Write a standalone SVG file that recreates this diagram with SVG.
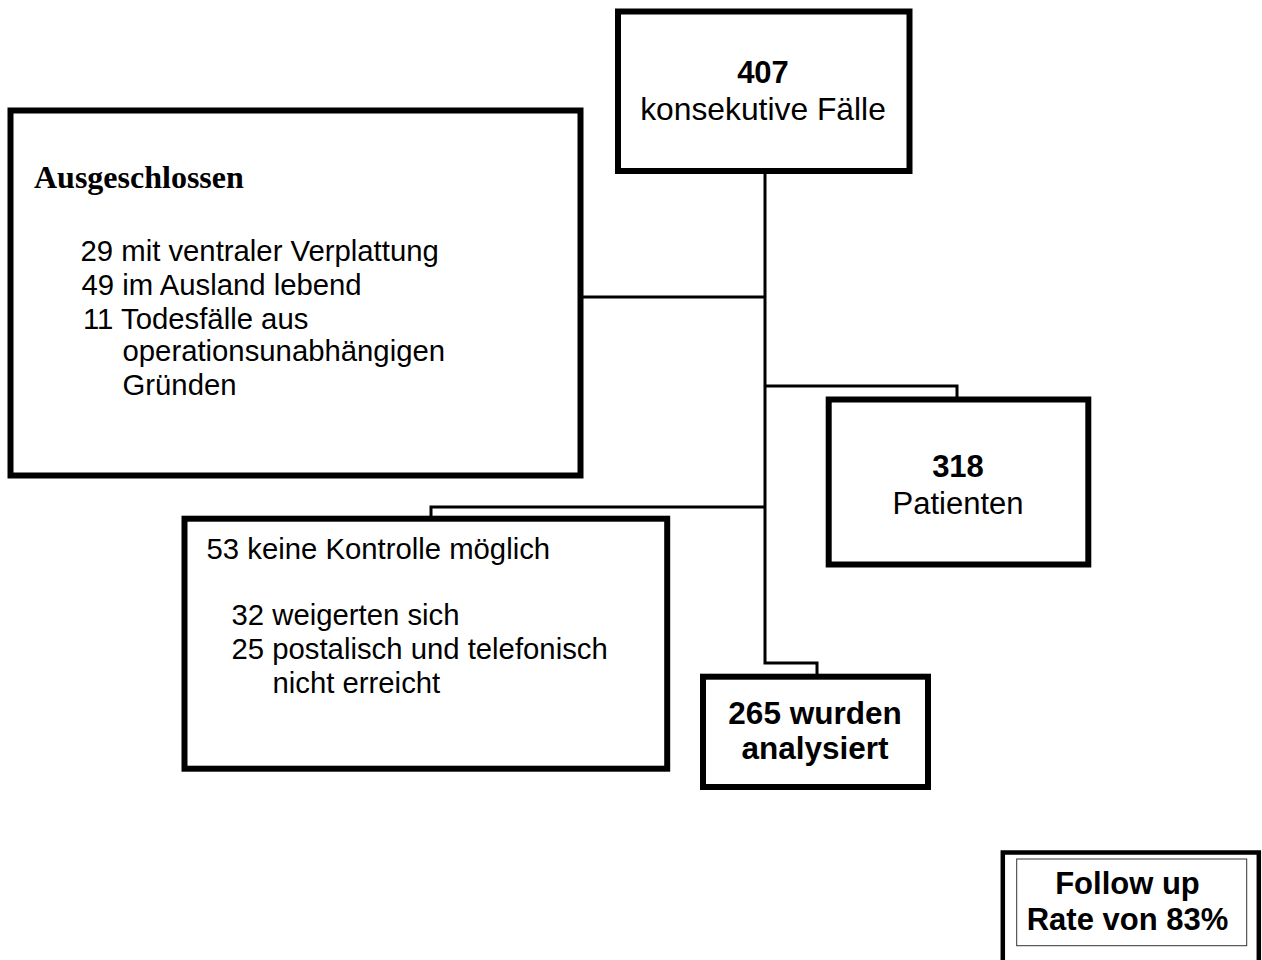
<svg xmlns="http://www.w3.org/2000/svg" width="1262" height="960" viewBox="0 0 1262 960">
<style>
.box{fill:#fff;stroke:#000;stroke-width:6}
.conn{fill:none;stroke:#000;stroke-width:3}
.s{font-family:"Liberation Sans",Arial,sans-serif;fill:#000}
.b{font-weight:bold}
.c{text-anchor:middle}
.t{font-family:"Liberation Serif","Times New Roman",serif;font-weight:bold;fill:#000}
</style>
<rect width="1262" height="960" fill="#fff"/>
<g id="connectors">
<polyline class="conn" points="765,174 765,663 817,663 817,677"/>
<polyline class="conn" points="765,386 957,386 957,399"/>
<polyline class="conn" points="765,507 431,507 431,518"/>
<polyline class="conn" points="765,297 581,297"/>
</g>
<g id="n407">
<rect class="box" x="618" y="11.5" width="291.5" height="159.5"/>
<text class="s b c" x="763" y="83" font-size="31">407</text>
<text class="s c" x="763" y="120" font-size="31.8">konsekutive Fälle</text>
</g>
<g id="ausgeschlossen">
<rect class="box" x="10.5" y="110.5" width="570" height="365"/>
<text class="t" x="34" y="188" font-size="32">Ausgeschlossen</text>
<g class="s" font-size="29.3">
<text x="80.5" y="261">29 mit ventraler Verplattung</text>
<text x="81.5" y="295">49 im Ausland lebend</text>
<text x="83" y="328.5">11 Todesfälle aus</text>
<text x="122.5" y="361">operationsunabhängigen</text>
<text x="122.5" y="395">Gründen</text>
</g>
</g>
<g id="patienten">
<rect class="box" x="828.7" y="399.5" width="259.6" height="165"/>
<text class="s b c" x="958" y="477" font-size="31">318</text>
<text class="s c" x="958" y="514" font-size="31">Patienten</text>
</g>
<g id="keineKontrolle">
<rect class="box" x="184.5" y="518.7" width="482.7" height="250"/>
<g class="s" font-size="29.3">
<text x="206.5" y="558.5">53 keine Kontrolle möglich</text>
<text x="231.5" y="625">32 weigerten sich</text>
<text x="231.5" y="658.5">25 postalisch und telefonisch</text>
<text x="272.5" y="692.5">nicht erreicht</text>
</g>
</g>
<g id="analysiert">
<rect class="box" x="703" y="676.7" width="225" height="110.3"/>
<text class="s b c" x="815" y="724" font-size="31.5">265 wurden</text>
<text class="s b c" x="815" y="758.5" font-size="31.5">analysiert</text>
</g>
<g id="followup">
<rect x="1002.8" y="852.5" width="256" height="140" fill="#fff" stroke="#000" stroke-width="4.5"/>
<rect x="1016.7" y="859" width="230" height="86.7" fill="none" stroke="#333" stroke-width="1"/>
<text class="s b c" x="1127.5" y="894" font-size="31">Follow up</text>
<text class="s b c" x="1127.5" y="930" font-size="31">Rate von 83%</text>
</g>
</svg>
